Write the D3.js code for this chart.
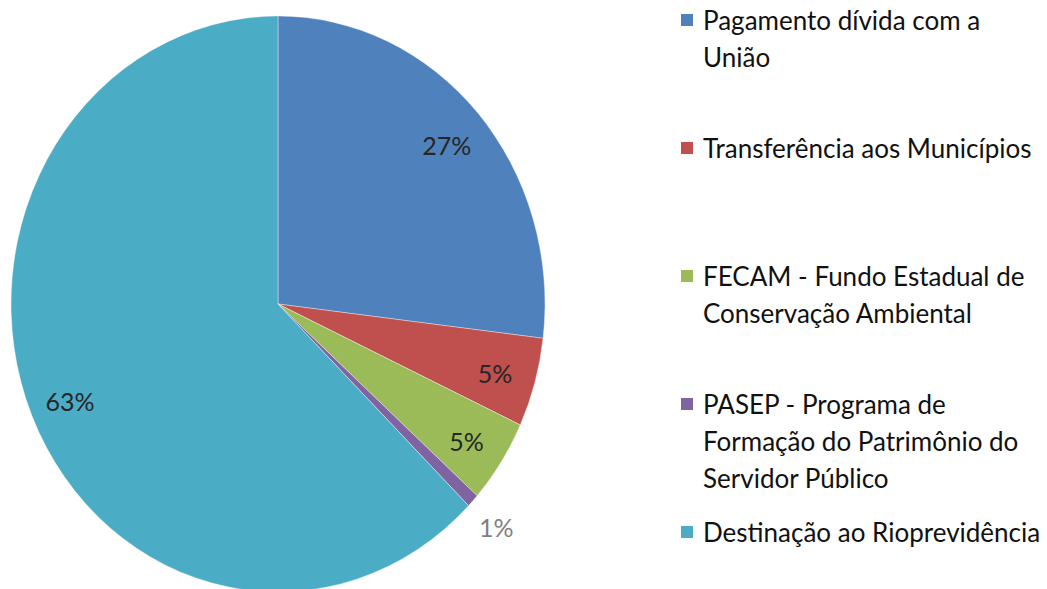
<!DOCTYPE html>
<html>
<head>
<meta charset="utf-8">
<script src="https://cdn.jsdelivr.net/npm/d3@7"></script>
<style>
  html, body { margin: 0; padding: 0; background: #ffffff; }
  svg { display: block; }
  text { font-family: Lato, "Open Sans", sans-serif; }
</style>
</head>
<body>
<svg id="chart" width="1047" height="589"></svg>
<script>
// ---- data ----
const categories = [
  "Pagamento dívida com a União",
  "Transferência aos Municípios",
  "FECAM - Fundo Estadual de Conservação Ambiental",
  "PASEP - Programa de Formação do Patrimônio do Servidor Público",
  "Destinação ao Rioprevidência"
];
const values = [26.9, 5.0, 4.7, 0.75, 62.65];
const labels = ["27%", "5%", "5%", "1%", "63%"];
const legendLines = [
  ["Pagamento dívida com a", "União"],
  ["Transferência aos Municípios"],
  ["FECAM - Fundo Estadual de", "Conservação Ambiental"],
  ["PASEP - Programa de", "Formação do Patrimônio do", "Servidor Público"],
  ["Destinação ao Rioprevidência"]
];
const colors = ["#4F81BD", "#C0504D", "#9BBB59", "#8064A2", "#4BACC6"];

// ---- layout ----
const svg = d3.select("#chart");
const cx = 278, cy = 304, R = 267, yStretch = 288 / 267;

const pie = d3.pie().value(d => d).sort(null);
const arcs = pie(values);
const arc = d3.arc().innerRadius(0).outerRadius(R);

const color = d3.scaleOrdinal().domain(categories).range(colors);

const g = svg.append("g")
  .attr("transform", `translate(${cx},${cy}) scale(1,${yStretch})`);

g.selectAll("path")
  .data(arcs)
  .join("path")
  .attr("d", arc)
  .attr("fill", (d, i) => color(categories[i]))
  .attr("stroke", "#ffffff")
  .attr("stroke-width", 0.6)
  .attr("stroke-opacity", 0.6);

// labels
const inside = d3.arc().innerRadius(R * 0.845).outerRadius(R * 0.845);
const outside = d3.arc().innerRadius(R * 1.12).outerRadius(R * 1.12);
const isSmall = d => (d.endAngle - d.startAngle) < 0.1;
svg.append("g")
  .selectAll("text")
  .data(arcs)
  .join("text")
  .attr("x", d => cx + (isSmall(d) ? outside : inside).centroid(d)[0])
  .attr("y", d => cy + (isSmall(d) ? outside : inside).centroid(d)[1] * yStretch + 3)
  .attr("text-anchor", "middle")
  .attr("dominant-baseline", "central")
  .attr("font-size", 25)
  .attr("fill", d => isSmall(d) ? "#7f7f7f" : "#262626")
  .text((d, i) => labels[i]);

// legend
const legendX = 681, legendY0 = 20, itemStep = 128, lineStep = 37, sq = 12;
const leg = svg.append("g");
const items = leg.selectAll("g.item")
  .data(categories)
  .join("g")
  .attr("class", "item")
  .attr("transform", (d, i) => `translate(${legendX},${legendY0 + i * itemStep})`);

items.append("rect")
  .attr("x", 0).attr("y", -sq / 2)
  .attr("width", sq).attr("height", sq)
  .attr("fill", d => color(d));

items.each(function(d, i) {
  const t = d3.select(this).append("text")
    .attr("font-size", 26)
    .attr("fill", "#111");
  t.selectAll("tspan")
    .data(legendLines[i])
    .join("tspan")
    .attr("x", 22)
    .attr("y", (l, j) => j * lineStep)
    .attr("dominant-baseline", "central")
    .text(l => l);
});
</script>
</body>
</html>
